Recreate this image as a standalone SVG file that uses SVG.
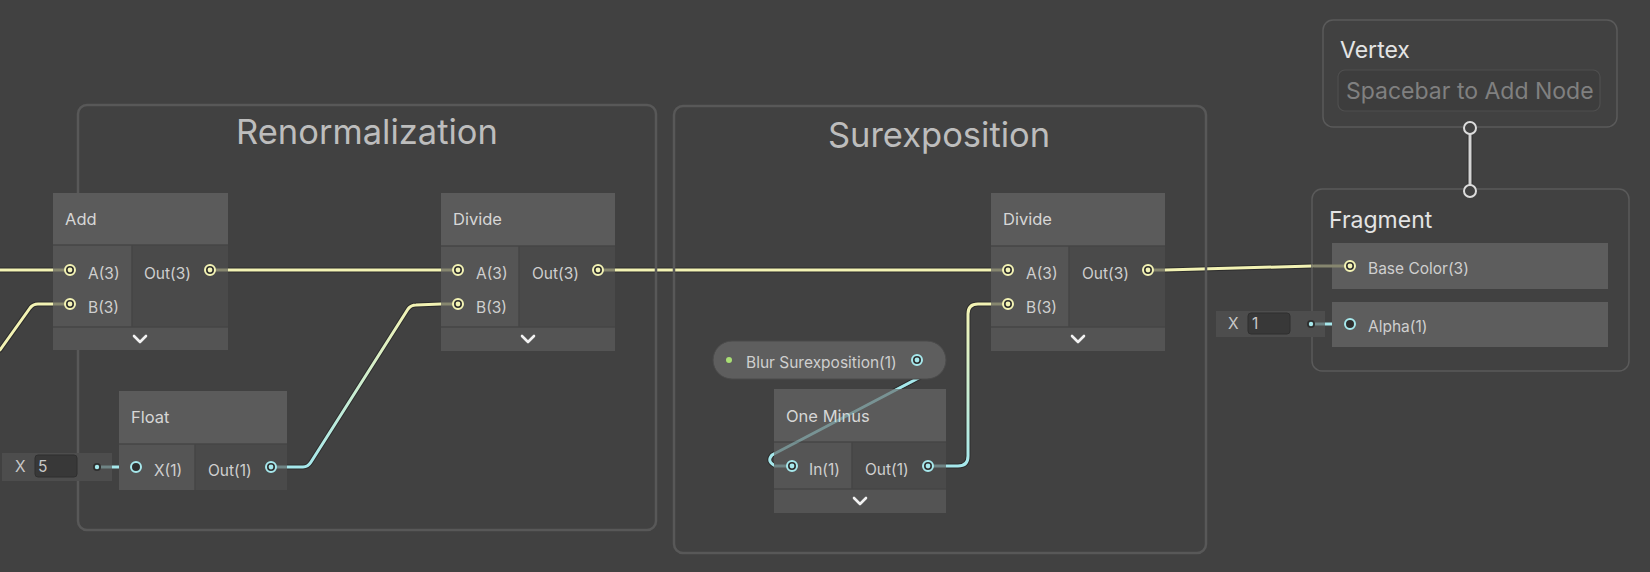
<svg xmlns="http://www.w3.org/2000/svg" width="1650" height="572" viewBox="0 0 1650 572">
<defs>
<style>
.t{font-family:Inter,"Liberation Sans","DejaVu Sans",sans-serif;}
.grp{fill:none;stroke:#585858;stroke-width:2.5;}
.gtitle{font-size:34.5px;fill:#bdbdbd;text-anchor:middle;}
.hdr{fill:#5b5b5b;}
.inc{fill:#555555;}
.outc{fill:#4a4a4a;}
.bar{fill:#545454;}
.sep{stroke:#464646;stroke-width:1.5;}
.htxt{font-size:16.5px;fill:#d6d6d6;}
.ptxt{font-size:15.5px;fill:#cfcfcf;}
.chev{fill:none;stroke:#f2f2f2;stroke-width:2.6;stroke-linecap:round;stroke-linejoin:round;}
.wo{fill:none;stroke:#262626;stroke-width:5;stroke-linecap:round;stroke-linejoin:round;opacity:0.75;}
.wy{fill:none;stroke:#f3f3b4;stroke-width:3;stroke-linecap:round;stroke-linejoin:round;}
.wc{fill:none;stroke:#a6e8ec;stroke-width:3;stroke-linecap:round;stroke-linejoin:round;}
.sy{stroke:#86866f;stroke-width:3;}
.sc{stroke:#6f8485;stroke-width:3;}
.py{fill:#2e2e2e;stroke:#f3f3b4;stroke-width:2;}
.pyd{fill:#f3f3b4;}
.pc{fill:#2e2e2e;stroke:#a6e8ec;stroke-width:2;}
.pcd{fill:#a6e8ec;}
.fld{fill:#4d4d4d;}
.fin{fill:#383838;stroke:#2f2f2f;stroke-width:1;}
.ftxt{font-size:15.5px;fill:#c8c8c8;}
.ctx{fill:none;stroke:#5a5a5a;stroke-width:1.5;}
.row{fill:#5d5d5d;}
</style>
<linearGradient id="g1" gradientUnits="userSpaceOnUse" x1="305" y1="467" x2="413" y2="305">
<stop offset="0" stop-color="#a6e8ec"/><stop offset="1" stop-color="#f3f3b4"/>
</linearGradient>
<linearGradient id="g2" gradientUnits="userSpaceOnUse" x1="968" y1="466" x2="968" y2="305">
<stop offset="0" stop-color="#a6e8ec"/><stop offset="1" stop-color="#f3f3b4"/>
</linearGradient>
</defs>
<rect x="0" y="0" width="1650" height="572" fill="#414141"/>

<g id="connectors">
<path class="wo" d="M0,270 L53,270"/>
<path class="wy" d="M0,270 L53,270"/>
<path class="wo" d="M0,350 L30,308 Q33,304 38,304 L53,304"/>
<path class="wy" d="M0,350 L30,308 Q33,304 38,304 L53,304"/>
<path class="wo" d="M228,270 L441,270"/>
<path class="wy" d="M228,270 L441,270"/>
<path class="wo" d="M287,467 L303,467 Q308,467 311,462 L408,309 Q411,305 416,305 L441,304"/>
<path d="M287,467 L303,467 Q308,467 311,462 L408,309 Q411,305 416,305 L441,304" fill="none" stroke="url(#g1)" stroke-width="3" stroke-linecap="round" stroke-linejoin="round"/>
<path class="wo" d="M615,270 L991,270"/>
<path class="wy" d="M615,270 L991,270"/>
<path class="wo" d="M946,466 L958,466 Q968,466 968,456 L968,314 Q968,304 978,304 L991,304"/>
<path d="M946,466 L958,466 Q968,466 968,456 L968,314 Q968,304 978,304 L991,304" fill="none" stroke="url(#g2)" stroke-width="3" stroke-linecap="round" stroke-linejoin="round"/>
<path class="wo" d="M917,360 L934,360 Q944,362 930,372 L772,455 Q766,462 776,466 L792,466"/>
<path class="wc" d="M917,360 L934,360 Q944,362 930,372 L772,455 Q766,462 776,466 L792,466"/>
<path class="wo" d="M1165,270 L1312,266"/>
<path class="wy" d="M1165,270 L1312,266"/>
<path class="wc" d="M1325,324 L1344,324"/>
<path class="wc" d="M112,467 L130,467"/>
<path d="M1470,134 L1470,185" fill="none" stroke="#262626" stroke-width="5" opacity="0.7"/>
<path d="M1470,134 L1470,185" fill="none" stroke="#d4d4d4" stroke-width="3"/>
</g>

<g id="group-renormalization">
<rect class="grp" x="78" y="105" width="578" height="425" rx="9"/>
<text class="t gtitle" x="367" y="144">Renormalization</text>
</g>
<g id="group-surexposition">
<rect class="grp" x="674" y="106" width="532" height="447" rx="9"/>
<text class="t gtitle" x="939" y="147">Surexposition</text>
</g>

<g id="node-add">
<rect class="hdr" x="53" y="193" width="175" height="52"/>
<rect class="inc" x="53" y="245" width="79" height="82"/>
<rect class="outc" x="132" y="245" width="96" height="82"/>
<rect class="bar" x="53" y="327" width="175" height="23"/>
<line class="sep" x1="53" y1="245" x2="228" y2="245"/>
<line class="sep" x1="53" y1="327" x2="228" y2="327"/>
<line class="sep" x1="132" y1="245" x2="132" y2="327"/>
<text class="t htxt" x="65" y="225">Add</text>
<line class="sy" x1="53" y1="270" x2="65" y2="270"/>
<line class="sy" x1="53" y1="304" x2="65" y2="304"/>
<line class="sy" x1="215" y1="270" x2="228" y2="270"/>
<circle class="py" cx="70" cy="270" r="5"/><circle class="pyd" cx="70" cy="270" r="2.4"/>
<circle class="py" cx="70" cy="304" r="5"/><circle class="pyd" cx="70" cy="304" r="2.4"/>
<circle class="py" cx="210" cy="270" r="5"/><circle class="pyd" cx="210" cy="270" r="2.4"/>
<text class="t ptxt" x="88" y="279">A(3)</text>
<text class="t ptxt" x="88" y="313">B(3)</text>
<text class="t ptxt" x="144" y="279">Out(3)</text>
<path class="chev" d="M134,336 L140,342 L146,336"/>
</g>

<g id="node-float">
<rect class="hdr" x="119" y="391" width="168" height="53"/>
<rect class="inc" x="119" y="444" width="76" height="46"/>
<rect class="outc" x="195" y="444" width="92" height="46"/>
<line class="sep" x1="119" y1="444" x2="287" y2="444"/>
<line class="sep" x1="195" y1="444" x2="195" y2="490"/>
<text class="t htxt" x="131" y="423">Float</text>
<line class="sc" x1="274" y1="467" x2="287" y2="467"/>
<circle class="pc" cx="136" cy="467" r="5"/>
<circle class="pc" cx="271" cy="467" r="5"/><circle class="pcd" cx="271" cy="467" r="2.4"/>
<text class="t ptxt" x="154" y="476">X(1)</text>
<text class="t ptxt" x="208" y="476">Out(1)</text>
</g>

<g id="field-x5">
<rect class="fld" x="2" y="453" width="110" height="28"/>
<rect class="fin" x="35" y="455" width="42" height="22" rx="3"/>
<text class="t ftxt" x="15" y="472">X</text>
<text class="t ftxt" x="38" y="472">5</text>
<line class="sc" x1="100" y1="467" x2="112" y2="467"/>
<circle cx="97" cy="467" r="4" fill="#2e2e2e"/><circle class="pcd" cx="97" cy="467" r="2.2"/>
</g>

<g id="node-divide-1">
<rect class="hdr" x="441" y="193" width="174" height="53"/>
<rect class="inc" x="441" y="246" width="78" height="81"/>
<rect class="outc" x="519" y="246" width="96" height="81"/>
<rect class="bar" x="441" y="327" width="174" height="24"/>
<line class="sep" x1="441" y1="246" x2="615" y2="246"/>
<line class="sep" x1="441" y1="327" x2="615" y2="327"/>
<line class="sep" x1="519" y1="246" x2="519" y2="327"/>
<text class="t htxt" x="453" y="225">Divide</text>
<line class="sy" x1="441" y1="270" x2="453" y2="270"/>
<line class="sy" x1="441" y1="304" x2="453" y2="304"/>
<line class="sy" x1="603" y1="270" x2="615" y2="270"/>
<circle class="py" cx="458" cy="270" r="5"/><circle class="pyd" cx="458" cy="270" r="2.4"/>
<circle class="py" cx="458" cy="304" r="5"/><circle class="pyd" cx="458" cy="304" r="2.4"/>
<circle class="py" cx="598" cy="270" r="5"/><circle class="pyd" cx="598" cy="270" r="2.4"/>
<text class="t ptxt" x="476" y="279">A(3)</text>
<text class="t ptxt" x="476" y="313">B(3)</text>
<text class="t ptxt" x="532" y="279">Out(3)</text>
<path class="chev" d="M522,336 L528,342 L534,336"/>
</g>

<g id="node-one-minus">
<rect class="hdr" x="774" y="389" width="172" height="53"/>
<rect class="inc" x="774" y="442" width="78" height="47"/>
<rect class="outc" x="852" y="442" width="94" height="47"/>
<rect class="bar" x="774" y="489" width="172" height="24"/>
<line class="sep" x1="774" y1="442" x2="946" y2="442"/>
<line class="sep" x1="774" y1="489" x2="946" y2="489"/>
<line class="sep" x1="852" y1="442" x2="852" y2="489"/>
<text class="t htxt" x="786" y="422">One Minus</text>
<line class="sc" x1="774" y1="466" x2="787" y2="466"/>
<line class="sc" x1="933" y1="466" x2="946" y2="466"/>
<circle class="pc" cx="792" cy="466" r="5"/><circle class="pcd" cx="792" cy="466" r="2.4"/>
<circle class="pc" cx="928" cy="466" r="5"/><circle class="pcd" cx="928" cy="466" r="2.4"/>
<text class="t ptxt" x="809" y="475">In(1)</text>
<text class="t ptxt" x="865" y="475">Out(1)</text>
<path class="chev" d="M854,498 L860,504 L866,498"/>
</g>

<g id="connector-overlay" opacity="0.4">
<path class="wc" d="M930,372 L772,455"/>
</g>

<g id="node-blur-surexposition">
<rect x="713" y="341" width="233" height="38" rx="19" fill="#5e5e5e" stroke="#4a4a4a" stroke-width="1"/>
<circle cx="729" cy="360" r="3" fill="#a9df74"/>
<text class="t ptxt" x="746" y="368">Blur Surexposition(1)</text>
<circle class="pc" cx="917" cy="360" r="5"/><circle class="pcd" cx="917" cy="360" r="2.4"/>
</g>

<g id="node-divide-2">
<rect class="hdr" x="991" y="193" width="174" height="53"/>
<rect class="inc" x="991" y="246" width="78" height="81"/>
<rect class="outc" x="1069" y="246" width="96" height="81"/>
<rect class="bar" x="991" y="327" width="174" height="24"/>
<line class="sep" x1="991" y1="246" x2="1165" y2="246"/>
<line class="sep" x1="991" y1="327" x2="1165" y2="327"/>
<line class="sep" x1="1069" y1="246" x2="1069" y2="327"/>
<text class="t htxt" x="1003" y="225">Divide</text>
<line class="sy" x1="991" y1="270" x2="1003" y2="270"/>
<line class="sy" x1="991" y1="304" x2="1003" y2="304"/>
<line class="sy" x1="1153" y1="270" x2="1165" y2="270"/>
<circle class="py" cx="1008" cy="270" r="5"/><circle class="pyd" cx="1008" cy="270" r="2.4"/>
<circle class="py" cx="1008" cy="304" r="5"/><circle class="pyd" cx="1008" cy="304" r="2.4"/>
<circle class="py" cx="1148" cy="270" r="5"/><circle class="pyd" cx="1148" cy="270" r="2.4"/>
<text class="t ptxt" x="1026" y="279">A(3)</text>
<text class="t ptxt" x="1026" y="313">B(3)</text>
<text class="t ptxt" x="1082" y="279">Out(3)</text>
<path class="chev" d="M1072,336 L1078,342 L1084,336"/>
</g>

<g id="context-vertex">
<rect class="ctx" x="1323" y="20" width="294" height="107" rx="10"/>
<text class="t" x="1340" y="58" font-size="23" fill="#e4e4e4">Vertex</text>
<rect x="1338" y="70" width="262" height="41" rx="7" fill="#3d3d3d" stroke="#4f4f4f" stroke-width="1.2"/>
<text class="t" x="1346" y="99" font-size="23" fill="#808080">Spacebar to Add Node</text>
<circle cx="1470" cy="128" r="6" fill="#414141" stroke="#dcdcdc" stroke-width="2"/>
</g>

<g id="context-fragment">
<rect class="ctx" x="1312" y="189" width="317" height="182" rx="10"/>
<circle cx="1470" cy="191" r="6" fill="#414141" stroke="#dcdcdc" stroke-width="2"/>
<text class="t" x="1329" y="228" font-size="23" fill="#e4e4e4">Fragment</text>
<rect class="row" x="1332" y="243" width="276" height="46"/>
<rect class="row" x="1332" y="302" width="276" height="45"/>
<line class="sy" x1="1312" y1="266" x2="1345" y2="266"/>
<circle class="py" cx="1350" cy="266" r="5"/><circle class="pyd" cx="1350" cy="266" r="2.4"/>
<text class="t ptxt" x="1368" y="274">Base Color(3)</text>
<circle class="pc" cx="1350" cy="324" r="5"/>
<text class="t ptxt" x="1368" y="332">Alpha(1)</text>
</g>

<g id="field-x1">
<rect class="fld" x="1216" y="311" width="109" height="26"/>
<rect class="fin" x="1248" y="313" width="42" height="21" rx="3"/>
<text class="t ftxt" x="1228" y="329">X</text>
<text class="t ftxt" x="1252" y="329">1</text>
<line class="sc" x1="1314" y1="324" x2="1325" y2="324"/>
<circle cx="1311" cy="324" r="4" fill="#2e2e2e"/><circle class="pcd" cx="1311" cy="324" r="2.2"/>
</g>
</svg>
